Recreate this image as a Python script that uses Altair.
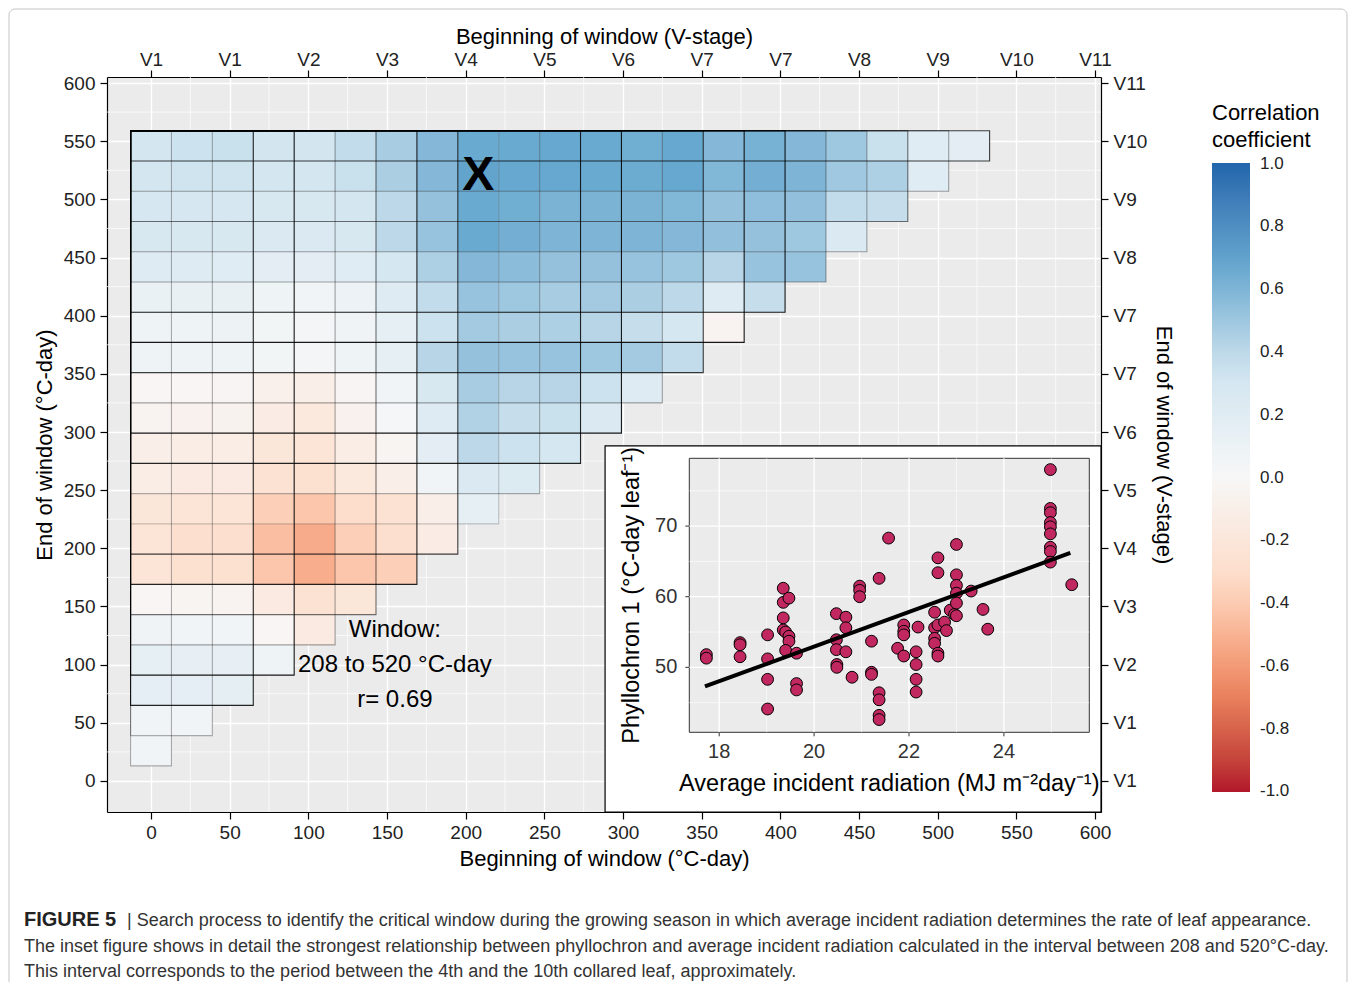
import altair as alt
import pandas as pd

# ---------------- data ----------------
STEP = 26  # window step (°C-day)
# correlation coefficient per window: row j = window end (STEP*j), item i = window start (STEP*i)
corr_rows = [
    [0.05],
    [0.06, 0.06],
    [0.16, 0.16, 0.17],
    [0.15, 0.14, 0.14, 0.08],
    [0.07, 0.06, 0.05, -0.02, -0.15],
    [-0.02, -0.04, -0.05, -0.15, -0.25, -0.20],
    [-0.22, -0.26, -0.26, -0.42, -0.52, -0.42, -0.38],
    [-0.22, -0.28, -0.28, -0.45, -0.53, -0.38, -0.28, -0.13],
    [-0.20, -0.23, -0.23, -0.38, -0.42, -0.30, -0.25, -0.10, 0.15],
    [-0.12, -0.15, -0.15, -0.25, -0.27, -0.17, -0.10, 0.06, 0.25, 0.24],
    [-0.10, -0.12, -0.12, -0.20, -0.22, -0.12, -0.04, 0.18, 0.40, 0.35, 0.30],
    [-0.05, -0.07, -0.06, -0.13, -0.17, -0.07, 0.02, 0.22, 0.44, 0.37, 0.36, 0.25],
    [-0.02, -0.02, -0.03, -0.08, -0.10, -0.03, 0.05, 0.28, 0.47, 0.42, 0.42, 0.35, 0.22],
    [0.08, 0.08, 0.08, 0.04, 0.03, 0.08, 0.15, 0.42, 0.53, 0.52, 0.52, 0.50, 0.48, 0.38],
    [0.08, 0.08, 0.09, 0.04, 0.03, 0.07, 0.15, 0.35, 0.48, 0.46, 0.45, 0.42, 0.37, 0.30, -0.05],
    [0.12, 0.13, 0.13, 0.08, 0.06, 0.10, 0.22, 0.38, 0.52, 0.50, 0.47, 0.48, 0.46, 0.40, 0.22, 0.37],
    [0.22, 0.22, 0.21, 0.18, 0.18, 0.20, 0.30, 0.45, 0.58, 0.56, 0.53, 0.53, 0.52, 0.50, 0.42, 0.52, 0.52],
    [0.27, 0.27, 0.27, 0.25, 0.25, 0.27, 0.40, 0.52, 0.66, 0.63, 0.60, 0.60, 0.60, 0.58, 0.54, 0.53, 0.50, 0.25],
    [0.29, 0.29, 0.29, 0.28, 0.27, 0.31, 0.40, 0.53, 0.66, 0.64, 0.61, 0.61, 0.61, 0.59, 0.53, 0.55, 0.54, 0.38, 0.37],
    [0.31, 0.34, 0.34, 0.31, 0.31, 0.36, 0.46, 0.58, 0.69, 0.67, 0.67, 0.66, 0.65, 0.67, 0.59, 0.63, 0.60, 0.49, 0.45, 0.20],
    [0.31, 0.35, 0.36, 0.32, 0.32, 0.38, 0.47, 0.58, 0.66, 0.66, 0.67, 0.66, 0.64, 0.67, 0.58, 0.62, 0.58, 0.50, 0.36, 0.20, 0.18],
]

axis_breaks = list(range(0, 601, 50))
minor_breaks = list(range(25, 600, 50))
v_labels = ["V1", "V1", "V2", "V3", "V4", "V5", "V6", "V7", "V7", "V8", "V9", "V10", "V11"]

# nested outline rectangles (one per window index k) and their line strength
outline_k = list(range(21))
outline_alpha = [0.3, 0.3, 0.85, 0.9, 0.35, 0.55, 0.85, 0.75, 0.2, 0.3, 0.85,
                 0.9, 0.35, 0.75, 0.9, 0.9, 0.35, 0.35, 0.55, 0.35, 0.75]

best_start, best_end = 208, 520
ann_lines = ["Window:", "208 to 520 °C-day", "r= 0.69"]
ann_x = 155
ann_y = [130, 100, 70]

# inset scatter
rad = [17.73, 17.73, 18.44, 18.44, 18.44, 19.02, 19.02, 19.02, 19.02, 19.35,
       19.35, 19.35, 19.35, 19.40, 19.47, 19.47, 19.47, 19.40, 19.63, 19.63,
       19.63, 20.47, 20.47, 20.47, 20.48, 20.48, 20.67, 20.67, 20.67, 20.80,
       20.96, 20.96, 20.96, 21.21, 21.21, 21.21, 21.37, 21.37, 21.37, 21.37,
       21.37, 21.57, 21.76, 21.89, 21.89, 21.89, 21.89, 22.15, 22.15, 22.15,
       22.15, 22.19, 22.54, 22.54, 22.54, 22.54, 22.61, 22.61, 22.61, 22.61,
       22.61, 22.75, 22.79, 22.87, 22.96, 23.00, 23.00, 23.00, 23.00, 23.00,
       23.00, 23.31, 23.56, 23.66, 24.98, 24.98, 24.98, 24.98, 24.98, 24.98,
       24.98, 24.98, 24.98, 25.43]
phyl = [51.8, 51.3, 53.5, 53.2, 51.5, 54.6, 51.2, 48.3, 44.1, 61.2,
        59.2, 57.0, 55.3, 55.0, 59.8, 54.4, 53.7, 52.4, 52.0, 47.7,
        46.8, 57.6, 53.9, 52.5, 50.4, 50.0, 57.1, 55.6, 52.2, 48.6,
        61.5, 60.9, 60.0, 53.7, 49.3, 49.0, 62.6, 46.4, 45.4, 43.2,
        42.6, 68.3, 52.7, 56.0, 55.1, 54.6, 51.6, 52.2, 50.4, 48.3,
        46.5, 55.7, 57.8, 55.6, 54.1, 53.4, 65.5, 63.4, 56.0, 52.0,
        51.6, 56.4, 55.2, 58.1, 57.5, 67.4, 63.1, 61.6, 60.5, 59.1,
        57.3, 60.8, 58.2, 55.4, 78.0, 72.5, 71.9, 70.5, 69.9, 68.9,
        67.0, 66.4, 64.9, 61.7]
fit_x = [17.7, 25.4]
fit_y = [47.3, 66.2]
inset_x_major = [18, 20, 22, 24]
inset_x_minor = [19, 21, 23, 25]
inset_y_major = [50, 60, 70]
inset_y_minor = [45, 55, 65, 75]
inset_x_title = "Average incident radiation (MJ m\u207b\u00b2day\u207b\u00b9)"
inset_y_title = "Phyllochron 1 (°C-day leaf\u207b\u00b9)"

caption_bold = "FIGURE 5"
caption_lines = [
    "| Search process to identify the critical window during the growing season in which average incident radiation determines the rate of leaf appearance.",
    "The inset figure shows in detail the strongest relationship between phyllochron and average incident radiation calculated in the interval between 208 and 520°C-day.",
    "This interval corresponds to the period between the 4th and the 10th collared leaf, approximately.",
]

# ---------------- layout ----------------
W, H = 994, 735
X_DOM = [-27.97, 603.8]
Y_DOM = [-26.65, 605.16]
IX_DOM = [17.37, 25.80]
IY_DOM = [40.8, 79.6]
IX_RANGE = [582.3, 982.3]
IY_RANGE = [655.3, 381.3]
INSET_BOX = {"x0": [288.6], "x1": [603.8], "y0": [-26.65], "y1": [288.0]}

half = STEP / 2
xs = alt.Scale(domain=X_DOM, nice=False, zero=False)
ys = alt.Scale(domain=Y_DOM, nice=False, zero=False)

axis_common = dict(domainColor="black", domainWidth=1.2, tickColor="black", tickWidth=1.2,
                   tickSize=7, labelFontSize=19, labelColor="#222222", titleFontSize=22,
                   titleFontWeight="normal", titleColor="black")
label_expr = "[" + ",".join("'%s'" % v for v in v_labels) + "][round(datum.value / 50)]"

bottom_axis = alt.Axis(orient="bottom", values=axis_breaks, title="Beginning of window (°C-day)",
                       grid=True, gridColor="white", gridWidth=1.4, labelPadding=4, titlePadding=6,
                       **axis_common)
left_axis = alt.Axis(orient="left", values=axis_breaks, title="End of window (°C-day)",
                     grid=True, gridColor="white", gridWidth=1.4, labelPadding=5, titlePadding=7,
                     **axis_common)
top_axis = alt.Axis(orient="top", values=axis_breaks, labelExpr=label_expr,
                    title="Beginning of window (V-stage)", grid=False, labelPadding=1, titlePadding=2,
                    **axis_common)
right_axis = alt.Axis(orient="right", values=axis_breaks, labelExpr=label_expr,
                      title="End of window (V-stage)", grid=False, titleAngle=90,
                      labelPadding=5, titlePadding=5, **axis_common)

tile_df = pd.DataFrame([{"start": STEP * i, "end": STEP * j, "r": r}
                        for j, row in enumerate(corr_rows, start=1)
                        for i, r in enumerate(row)])

legend_vals = [round(-1 + 0.2 * i, 1) for i in range(11)]
color_scale = alt.Scale(domain=[-1.002, -2 / 3, -1 / 3, 0, 1 / 3, 2 / 3, 1.002],
                        range=["#b2182b", "#ef8a62", "#fddbc7", "#f7f7f7", "#d1e5f0", "#67a9cf", "#2166ac"],
                        interpolate="lab")

minor_v = alt.Chart(pd.DataFrame({"m": minor_breaks})).mark_rule(color="white", strokeWidth=0.7).encode(
    x=alt.X("m:Q", scale=xs, axis=None))
minor_h = alt.Chart(pd.DataFrame({"m": minor_breaks})).mark_rule(color="white", strokeWidth=0.7).encode(
    y=alt.Y("m:Q", scale=ys, axis=None))

tiles = alt.Chart(tile_df).transform_calculate(
    x0="datum.start - %g" % half, x1="datum.start + %g" % half,
    y0="datum.end - %g" % half, y1="datum.end + %g" % half,
).mark_rect().encode(
    x=alt.X("x0:Q", scale=xs, axis=bottom_axis),
    x2=alt.X2("x1"),
    y=alt.Y("y0:Q", scale=ys, axis=left_axis),
    y2=alt.Y2("y1"),
    color=alt.Color("r:Q", scale=color_scale, legend=alt.Legend(
        title=["Correlation", "coefficient"], orient="none", legendX=1105, legendY=26,
        direction="vertical", gradientLength=629, gradientThickness=38, gradientStrokeWidth=0,
        values=legend_vals, labelExpr="replace(format(datum.value, '.1f'), '\u2212', '-')",
        labelFontSize=17, labelColor="#222222", labelOverlap=False, labelOffset=10,
        labelBaseline="middle",
        titleFontSize=22, titleFontWeight="normal", titleColor="black", titleLineHeight=27,
        titlePadding=11, titleLimit=400)),
)

left_edge = -half
top_edge = STEP * len(corr_rows) + half
outline = alt.Chart(pd.DataFrame({"k": outline_k, "alpha": outline_alpha})).transform_calculate(
    ox0="%g" % left_edge, ox1="%d * datum.k + %g" % (STEP, half),
    oy0="%d * datum.k + %g" % (STEP, half), oy1="%g" % top_edge,
).mark_rect(fillOpacity=0, stroke="black", strokeWidth=1.1).encode(
    x=alt.X("ox0:Q", scale=xs, axis=top_axis),
    x2=alt.X2("ox1"),
    y=alt.Y("oy0:Q", scale=ys, axis=right_axis),
    y2=alt.Y2("oy1"),
    strokeOpacity=alt.StrokeOpacity("alpha:Q", scale=None, legend=None),
)

xmark = alt.Chart(pd.DataFrame({"s": [best_start], "e": [best_end], "t": ["X"]})).mark_text(
    fontSize=48, fontWeight="bold", color="black", baseline="middle").encode(
    x=alt.X("s:Q", scale=xs, axis=None), y=alt.Y("e:Q", scale=ys, axis=None), text="t:N")

ann = alt.Chart(pd.DataFrame({"x": [ann_x] * 3, "y": ann_y, "t": ann_lines})).mark_text(
    fontSize=24, color="black", baseline="middle").encode(
    x=alt.X("x:Q", scale=xs, axis=None), y=alt.Y("y:Q", scale=ys, axis=None), text="t:N")

box = alt.Chart(pd.DataFrame(INSET_BOX)).mark_rect(fill="white", stroke="black", strokeWidth=1.2).encode(
    x=alt.X("x0:Q", scale=xs, axis=None), x2=alt.X2("x1"),
    y=alt.Y("y0:Q", scale=ys, axis=None), y2=alt.Y2("y1"))

frame = alt.Chart(pd.DataFrame({"a": [0]})).mark_rect(
    fillOpacity=0, stroke="#c4c4c4", strokeWidth=1, cornerRadius=6).encode(
    x=alt.value(-98), x2=alt.value(1240), y=alt.value(-68), y2=alt.value(960))

cap_layers = [
    alt.Chart(pd.DataFrame({"t": [caption_bold]})).mark_text(
        align="left", baseline="middle", fontSize=20, fontWeight="bold", color="#222222").encode(
        x=alt.value(-83), y=alt.value(843), text="t:N")
]
for idx, (line, xv) in enumerate(zip(caption_lines, [20, -83, -83])):
    cap_layers.append(alt.Chart(pd.DataFrame({"t": [line]})).mark_text(
        align="left", baseline="middle", fontSize=18, color="#333333").encode(
        x=alt.value(xv), y=alt.value(844 + 25.5 * idx), text="t:N"))

main = alt.layer(frame, minor_v, minor_h, tiles, outline, xmark, ann, box, *cap_layers).resolve_axis(
    x="independent", y="independent")

# ---------------- inset ----------------
ixs = alt.Scale(domain=IX_DOM, range=IX_RANGE, nice=False, zero=False)
iys = alt.Scale(domain=IY_DOM, range=IY_RANGE, nice=False, zero=False)
ix_per_px = (IX_DOM[1] - IX_DOM[0]) / (IX_RANGE[1] - IX_RANGE[0])
iy_per_px = (IY_DOM[1] - IY_DOM[0]) / (IY_RANGE[0] - IY_RANGE[1])
TICK_PX = 4

panel = alt.Chart(pd.DataFrame({"x0": [IX_DOM[0]], "x1": [IX_DOM[1]], "y0": [IY_DOM[0]], "y1": [IY_DOM[1]]})).mark_rect(
    fill="#ebebeb", stroke="#333333", strokeWidth=1).encode(
    x=alt.X("x0:Q", scale=ixs, axis=None), x2=alt.X2("x1"),
    y=alt.Y("y0:Q", scale=iys, axis=None), y2=alt.Y2("y1"))

vg = pd.DataFrame({"g": inset_x_major + inset_x_minor,
                   "w": [1.3] * len(inset_x_major) + [0.6] * len(inset_x_minor),
                   "lo": IY_DOM[0], "hi": IY_DOM[1]})
hg = pd.DataFrame({"g": inset_y_major + inset_y_minor,
                   "w": [1.3] * len(inset_y_major) + [0.6] * len(inset_y_minor),
                   "lo": IX_DOM[0], "hi": IX_DOM[1]})
igrid_v = alt.Chart(vg).mark_rule(color="white").encode(
    x=alt.X("g:Q", scale=ixs, axis=None), y=alt.Y("lo:Q", scale=iys, axis=None), y2=alt.Y2("hi"),
    strokeWidth=alt.StrokeWidth("w:Q", scale=None, legend=None))
igrid_h = alt.Chart(hg).mark_rule(color="white").encode(
    y=alt.Y("g:Q", scale=iys, axis=None), x=alt.X("lo:Q", scale=ixs, axis=None), x2=alt.X2("hi"),
    strokeWidth=alt.StrokeWidth("w:Q", scale=None, legend=None))

# inset axes: ticks and labels drawn through the inset scales
xt = pd.DataFrame({"v": inset_x_major, "lo": IY_DOM[0], "hi": IY_DOM[0] - TICK_PX * iy_per_px})
yt = pd.DataFrame({"v": inset_y_major, "lo": IX_DOM[0], "hi": IX_DOM[0] - TICK_PX * ix_per_px})
xticks = alt.Chart(xt).mark_rule(color="#333333", strokeWidth=1).encode(
    x=alt.X("v:Q", scale=ixs, axis=None), y=alt.Y("lo:Q", scale=iys, axis=None), y2=alt.Y2("hi"))
yticks = alt.Chart(yt).mark_rule(color="#333333", strokeWidth=1).encode(
    y=alt.Y("v:Q", scale=iys, axis=None), x=alt.X("lo:Q", scale=ixs, axis=None), x2=alt.X2("hi"))
xlabels = alt.Chart(xt).mark_text(fontSize=20, color="#333333", baseline="middle", dy=20).encode(
    x=alt.X("v:Q", scale=ixs, axis=None), y=alt.Y("lo:Q", scale=iys, axis=None), text=alt.Text("v:Q"))
ylabels = alt.Chart(yt).mark_text(fontSize=20, color="#333333", baseline="middle", align="right", dx=-12).encode(
    y=alt.Y("v:Q", scale=iys, axis=None), x=alt.X("lo:Q", scale=ixs, axis=None), text=alt.Text("v:Q"))
xtitle = alt.Chart(pd.DataFrame({"x": [(IX_DOM[0] + IX_DOM[1]) / 2], "y": [IY_DOM[0]], "t": [inset_x_title]})).mark_text(
    fontSize=23.5, color="black", baseline="middle", dy=52).encode(
    x=alt.X("x:Q", scale=ixs, axis=None), y=alt.Y("y:Q", scale=iys, axis=None), text="t:N")
ytitle = alt.Chart(pd.DataFrame({"x": [IX_DOM[0]], "y": [(IY_DOM[0] + IY_DOM[1]) / 2], "t": [inset_y_title]})).mark_text(
    fontSize=23.5, color="black", baseline="middle", angle=270, dy=-57).encode(
    x=alt.X("x:Q", scale=ixs, axis=None), y=alt.Y("y:Q", scale=iys, axis=None), text="t:N")

points = alt.Chart(pd.DataFrame({"rad": rad, "phyl": phyl})).mark_circle(
    size=140, color="#c0285f", stroke="black", strokeWidth=1, opacity=1).encode(
    x=alt.X("rad:Q", scale=ixs, axis=None),
    y=alt.Y("phyl:Q", scale=iys, axis=None))

fit = alt.Chart(pd.DataFrame({"x": fit_x, "y": fit_y})).mark_line(color="black", strokeWidth=4).encode(
    x=alt.X("x:Q", scale=ixs, axis=None), y=alt.Y("y:Q", scale=iys, axis=None))

inset = alt.layer(panel, igrid_v, igrid_h, xticks, yticks, xlabels, ylabels, xtitle, ytitle, points, fit)

chart = alt.layer(main, inset).resolve_scale(
    x="independent", y="independent").resolve_axis(x="independent", y="independent").properties(
    width=W, height=H, autosize=alt.AutoSizeParams(type="none"),
    padding={"left": 99, "top": 69, "right": 248, "bottom": 170},
).configure(font="Liberation Sans").configure_view(fill="#ebebeb", stroke="transparent")

chart.save("out.html", embed_options={"renderer": "svg", "actions": False})
